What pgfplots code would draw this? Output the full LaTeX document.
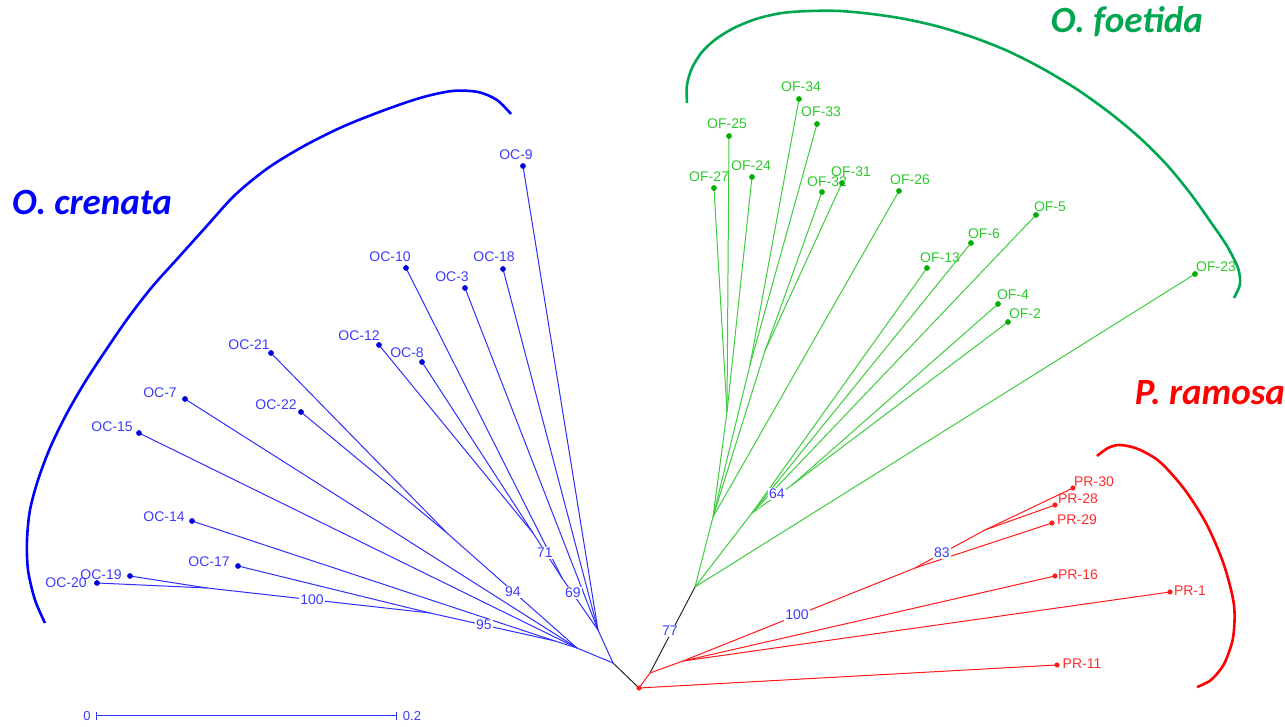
\documentclass[border=0pt]{standalone}
\usepackage{fontspec}
\setmainfont{Liberation Sans}
\newfontfamily\calfont{Carlito}
\usepackage{pgfplots}
\pgfplotsset{compat=1.18}
\definecolor{bl}{RGB}{45,45,255}
\definecolor{bldot}{RGB}{0,0,220}
\definecolor{bltxt}{RGB}{60,60,255}
\definecolor{gr}{RGB}{60,205,60}
\definecolor{grdot}{RGB}{0,175,0}
\definecolor{grtxt}{RGB}{45,200,45}
\definecolor{grarc}{RGB}{0,166,80}
\definecolor{rd}{RGB}{255,25,25}
\definecolor{rdtxt}{RGB}{255,45,45}
\definecolor{stem}{RGB}{40,40,40}
\newcommand{\lab}[4]{\node[text=#4,inner sep=0pt,font=\fontsize{14}{16}\selectfont] at (axis cs:#1,#2) {#3};}
\newcommand{\boot}[3]{\node[text=bltxt,fill=white,inner sep=1pt,font=\fontsize{14}{16}\selectfont] at (axis cs:#1,#2) {#3};}
\begin{document}
\begin{tikzpicture}
\begin{axis}[width=1285pt,height=727pt,scale only axis,
  xmin=0,xmax=1285,ymin=0,ymax=727,y dir=reverse,hide axis,clip=false,
  br/.style={line width=1pt,no markers},
  arc/.style={line width=2.6pt,no markers,smooth,tension=0.5}]
\addplot[draw=none] coordinates {(0,0) (1285,727)};
% ---- blue clade (O. crenata) ----
\addplot[br,bl] coordinates {(598,630) (613,663)};
\addplot[br,bl] coordinates {(523,166) (598,630)};
\addplot[br,bl] coordinates {(503,269) (598,630)};
\addplot[br,bl] coordinates {(465,288) (598,630)};
\addplot[br,bl] coordinates {(562,578) (598,630)};
\addplot[br,bl] coordinates {(406,268) (562,578)};
\addplot[br,bl] coordinates {(533,533) (562,578)};
\addplot[br,bl] coordinates {(379,345) (533,533)};
\addplot[br,bl] coordinates {(422,362) (533,533)};
\addplot[br,bl] coordinates {(577,648) (613,663)};
\addplot[br,bl] coordinates {(447,533) (577,648)};
\addplot[br,bl] coordinates {(271,353) (447,533)};
\addplot[br,bl] coordinates {(301,412) (447,533)};
\addplot[br,bl] coordinates {(185,399) (577,648)};
\addplot[br,bl] coordinates {(139,433) (577,648)};
\addplot[br,bl] coordinates {(555,641) (577,648)};
\addplot[br,bl] coordinates {(192,521) (555,641)};
\addplot[br,bl] coordinates {(430,613) (555,641)};
\addplot[br,bl] coordinates {(238,566) (430,613)};
\addplot[br,bl] coordinates {(207,588) (430,613)};
\addplot[br,bl] coordinates {(130,576) (207,588)};
\addplot[br,bl] coordinates {(97,583) (207,588)};
% ---- stems ----
\addplot[br,stem] coordinates {(613,663) (639,688)};
\addplot[br,stem] coordinates {(650,673) (695,587)};
% ---- red clade (P. ramosa) ----
\addplot[br,rd] coordinates {(639,688) (650,673)};
\addplot[br,rd] coordinates {(639,688) (1057,665)};
\addplot[br,rd] coordinates {(650,673) (683,661)};
\addplot[br,rd] coordinates {(683,661) (1055,576)};
\addplot[br,rd] coordinates {(683,661) (1170,592)};
\addplot[br,rd] coordinates {(683,661) (915,568)};
\addplot[br,rd] coordinates {(915,568) (1052,523)};
\addplot[br,rd] coordinates {(915,568) (985,530)};
\addplot[br,rd] coordinates {(985,530) (1073,488)};
\addplot[br,rd] coordinates {(985,530) (1055,505)};
% ---- green clade (O. foetida) ----
\addplot[br,gr] coordinates {(695,587) (1195,274)};
\addplot[br,gr] coordinates {(695,587) (713,517)};
\addplot[br,gr] coordinates {(713,517) (727,412)};
\addplot[br,gr] coordinates {(727,412) (714,188)};
\addplot[br,gr] coordinates {(727,412) (729,136)};
\addplot[br,gr] coordinates {(727,412) (752,177)};
\addplot[br,gr] coordinates {(713,517) (750,365)};
\addplot[br,gr] coordinates {(750,365) (799,99)};
\addplot[br,gr] coordinates {(750,365) (817,124)};
\addplot[br,gr] coordinates {(713,517) (765,351)};
\addplot[br,gr] coordinates {(765,351) (822,192)};
\addplot[br,gr] coordinates {(765,351) (842,183)};
\addplot[br,gr] coordinates {(713,517) (899,191)};
\addplot[br,gr] coordinates {(695,587) (752,513)};
\addplot[br,gr] coordinates {(752,513) (927,268)};
\addplot[br,gr] coordinates {(752,513) (971,243)};
\addplot[br,gr] coordinates {(752,513) (1036,215)};
\addplot[br,gr] coordinates {(752,513) (792,485)};
\addplot[br,gr] coordinates {(792,485) (998,304)};
\addplot[br,gr] coordinates {(792,485) (1008,322)};
% ---- tips ----
\addplot[only marks,mark=*,mark size=2.6pt,color=bldot] coordinates {
 (523,166) (503,269) (465,288) (406,268) (379,345) (422,362) (271,353)
 (301,412) (185,399) (139,433) (192,521) (238,566) (130,576) (97,583)};
\addplot[only marks,mark=*,mark size=2.6pt,color=grdot] coordinates {
 (799,99) (817,124) (729,136) (752,177) (714,188) (822,192) (842,183)
 (899,191) (927,268) (971,243) (1036,215) (998,304) (1008,322) (1195,274)};
\addplot[only marks,mark=*,mark size=2.3pt,color=rd] coordinates {
 (1073,488) (1055,505) (1052,523) (1055,576) (1170,592) (1057,665) (639,688)};
% ---- arcs ----
\addplot[arc,color=blue] coordinates {(45,623) (35,600) (28,570) (27,540) (30,510) (38,480) (50,448) (66,415) (85,382) (106,350) (128,318) (152,287) (178,258) (205,228) (235,195) (268,168) (304,146) (342,127) (382,111) (420,98) (452,91) (478,92) (497,100) (511,114)};
\addplot[arc,color=grarc] coordinates {(687,103) (687,85) (692,68) (702,52) (716,39) (734,28) (756,19) (782,13) (810,11) (840,11) (872,14) (905,19) (940,27) (975,38) (1010,52) (1045,70) (1078,90) (1110,113) (1140,138) (1167,165) (1190,193) (1210,221) (1227,246) (1238,268) (1240,284) (1234,298)};
\addplot[arc,color=red] coordinates {(1097,456) (1108,448) (1120,445) (1138,449) (1160,462) (1185,490) (1207,525) (1224,565) (1234,605) (1233,638) (1224,664) (1211,680) (1197,687)};
% ---- scale bar ----
\addplot[line width=1pt,color=bl,no markers] coordinates {(97,716) (397,716)};
\addplot[line width=1pt,color=bl,no markers] coordinates {(97,712) (97,720)};
\addplot[line width=1pt,color=bl,no markers] coordinates {(397,712) (397,720)};
\node[text=bltxt,font=\fontsize{13}{15}\selectfont,inner sep=0pt] at (axis cs:87,716) {0};
\node[text=bltxt,font=\fontsize{13}{15}\selectfont,inner sep=0pt] at (axis cs:412,716) {0.2};
% ---- bootstrap values ----
\boot{545}{553}{71}
\boot{573}{593}{69}
\boot{513}{592}{94}
\boot{484}{625}{95}
\boot{312}{600}{100}
\boot{670}{631}{77}
\boot{777}{494}{64}
\boot{797}{615}{100}
\boot{942}{553}{83}
% ---- tip labels ----
\lab{516}{155}{OC-9}{bltxt}
\lab{390}{257}{OC-10}{bltxt}
\lab{494}{257}{OC-18}{bltxt}
\lab{452}{277}{OC-3}{bltxt}
\lab{359}{336}{OC-12}{bltxt}
\lab{407}{353}{OC-8}{bltxt}
\lab{249}{345}{OC-21}{bltxt}
\lab{160}{393}{OC-7}{bltxt}
\lab{276}{405}{OC-22}{bltxt}
\lab{112}{427}{OC-15}{bltxt}
\lab{164}{517}{OC-14}{bltxt}
\lab{209}{562}{OC-17}{bltxt}
\lab{101}{575}{OC-19}{bltxt}
\lab{66}{583}{OC-20}{bltxt}
\lab{801}{87}{OF-34}{grtxt}
\lab{821}{112}{OF-33}{grtxt}
\lab{727}{124}{OF-25}{grtxt}
\lab{751}{166}{OF-24}{grtxt}
\lab{709}{177}{OF-27}{grtxt}
\lab{827}{182}{OF-32}{grtxt}
\lab{851}{172}{OF-31}{grtxt}
\lab{910}{180}{OF-26}{grtxt}
\lab{940}{258}{OF-13}{grtxt}
\lab{984}{234}{OF-6}{grtxt}
\lab{1050}{207}{OF-5}{grtxt}
\lab{1013}{295}{OF-4}{grtxt}
\lab{1025}{314}{OF-2}{grtxt}
\lab{1216}{267}{OF-23}{grtxt}
\lab{1094}{482}{PR-30}{rdtxt}
\lab{1078}{499}{PR-28}{rdtxt}
\lab{1077}{520}{PR-29}{rdtxt}
\lab{1078}{575}{PR-16}{rdtxt}
\lab{1190}{591}{PR-1}{rdtxt}
\lab{1082}{664}{PR-11}{rdtxt}
% ---- group names ----
\node[text=blue,font=\calfont\bfseries\itshape\fontsize{37}{40}\selectfont,inner sep=0pt] at (axis cs:92,203) {O. crenata};
\node[text=grarc,font=\calfont\bfseries\itshape\fontsize{37}{40}\selectfont,inner sep=0pt] at (axis cs:1127,22) {O. foetida};
\node[text=red,font=\calfont\bfseries\itshape\fontsize{37}{40}\selectfont,inner sep=0pt] at (axis cs:1210,393) {P. ramosa};
\end{axis}
\end{tikzpicture}
\end{document}
